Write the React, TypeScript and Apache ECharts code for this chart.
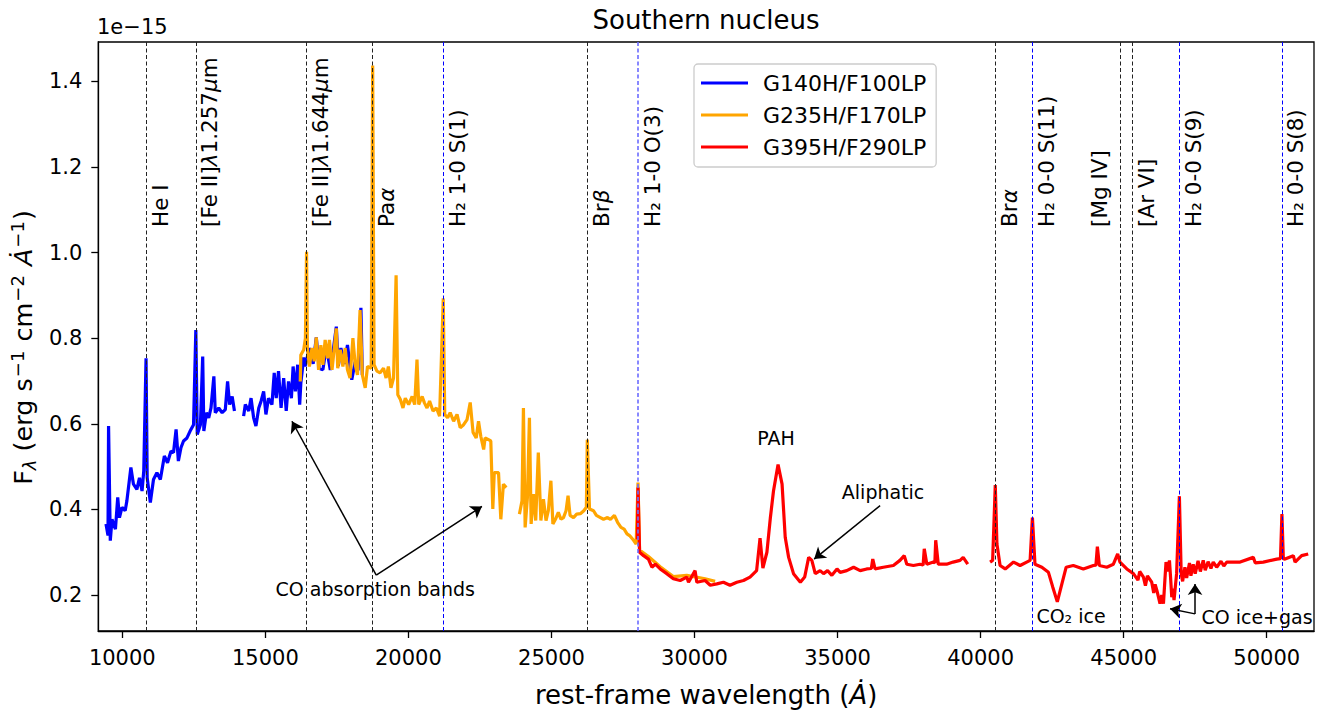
import React, { useEffect, useRef } from 'react';
import * as echarts from 'echarts';

const FONT = 'DejaVu Sans';

// Spectra: [rest-frame wavelength (Å), flux (1e-15 erg s^-1 cm^-2 Å^-1)]
const blueData: (number | null)[][] = [
  [9430, 0.366], [9500, 0.339], [9520, 0.595], [9580, 0.327], [9640, 0.377], [9760, 0.354], [9840, 0.428],
  [9900, 0.381], [9990, 0.405], [10100, 0.397], [10160, 0.42], [10300, 0.498], [10390, 0.459], [10510, 0.447],
  [10600, 0.474], [10690, 0.443], [10750, 0.49], [10830, 0.753], [10870, 0.474], [10980, 0.416], [11090, 0.47],
  [11210, 0.486], [11330, 0.47], [11470, 0.525], [11580, 0.509], [11700, 0.536], [11790, 0.533], [11880, 0.587],
  [11960, 0.513], [12050, 0.544], [12140, 0.56], [12260, 0.567], [12370, 0.583], [12490, 0.598], [12570, 0.819],
  [12620, 0.575], [12730, 0.598], [12810, 0.757], [12850, 0.583], [12940, 0.626], [13020, 0.614], [13100, 0.637],
  [13200, 0.711], [13250, 0.626], [13370, 0.637], [13490, 0.626], [13600, 0.633], [13680, 0.699], [13750, 0.645],
  [13840, 0.664], [13920, 0.63], [14070, null], [14240, 0.618], [14300, 0.645], [14420, 0.63], [14500, 0.66],
  [14590, 0.614], [14670, 0.595], [14770, 0.637], [14850, 0.653], [14940, 0.676], [15020, 0.622], [15110, 0.66],
  [15230, 0.645], [15310, 0.719], [15380, 0.66], [15460, 0.723], [15550, 0.637], [15640, 0.707], [15730, 0.63],
  [15810, 0.699], [15910, 0.66], [15970, 0.734], [16050, 0.676], [16130, 0.738], [16200, 0.645], [16240, 0.695],
  [16340, 0.755], [16390, 0.734], [16540, 0.777], [16670, 0.74], [16780, 0.802], [16880, 0.73], [17010, 0.726],
  [17130, 0.78], [17270, 0.726], [17370, 0.77], [17480, 0.827], [17550, 0.735], [17640, 0.777], [17760, 0.74],
  [17870, 0.784], [18020, 0.703], [18140, 0.745], [18240, 0.725], [18340, 0.871], [18390, 0.714],
];

const orangeData: (number | null)[][] = [
  [16220, 0.699], [16240, 0.761], [16340, 0.773], [16400, 0.8], [16440, 1.002], [16470, 0.777], [16540, 0.734],
  [16630, 0.777], [16710, 0.746], [16780, 0.802], [16860, 0.726], [16940, 0.784], [17010, 0.738], [17090, 0.796],
  [17170, 0.753], [17240, 0.796], [17330, 0.726], [17410, 0.777], [17480, 0.823], [17530, 0.73], [17620, 0.773],
  [17710, 0.734], [17790, 0.777], [17870, 0.726], [17960, 0.707], [18060, 0.8], [18140, 0.738], [18220, 0.714],
  [18310, 0.866], [18390, 0.714], [18490, 0.684], [18570, 0.734], [18700, 0.73], [18751, 1.437], [18800, 0.738],
  [18900, 0.723], [19010, 0.719], [19130, 0.73], [19220, 0.707], [19300, 0.734], [19390, 0.684], [19480, 0.707],
  [19570, 0.947], [19630, 0.668], [19720, 0.657], [19810, 0.637], [19890, 0.66], [20010, 0.645], [20130, 0.664],
  [20220, 0.645], [20300, 0.75], [20360, 0.645], [20480, 0.664], [20560, 0.649], [20650, 0.637], [20740, 0.653],
  [20860, 0.63], [20980, 0.637], [21090, 0.618], [21218, 0.893], [21270, 0.622], [21370, 0.614], [21460, 0.626],
  [21580, 0.606], [21700, 0.622], [21810, 0.591], [21930, 0.598], [22050, 0.61], [22160, 0.65], [22260, 0.58],
  [22370, 0.567], [22450, 0.606], [22530, 0.571], [22630, 0.54], [22680, 0.567], [22800, 0.563], [22880, 0.56],
  [22950, 0.401], [23000, 0.486], [23150, 0.486], [23230, 0.377], [23320, 0.459], [23420, 0.451], [23650, null],
  [23880, 0.389], [23970, 0.42], [24020, 0.637], [24080, 0.358], [24160, 0.428], [24230, 0.614], [24290, 0.366],
  [24370, 0.436], [24450, 0.374], [24540, 0.533], [24630, 0.374], [24720, 0.424], [24810, 0.374], [24890, 0.397],
  [24980, 0.467], [25050, 0.366], [25140, 0.377], [25240, 0.393], [25330, 0.377], [25420, 0.381], [25510, 0.397],
  [25580, 0.432], [25650, 0.386], [25770, 0.381], [25880, 0.389], [26010, 0.39], [26130, 0.397], [26220, 0.405],
  [26252, 0.563], [26330, 0.401], [26470, 0.397], [26570, 0.386], [26710, 0.381], [26820, 0.377], [26960, 0.381],
  [27060, 0.377], [27200, 0.386], [27310, 0.37], [27430, 0.358], [27540, 0.354], [27640, 0.343], [27730, 0.339],
  [27870, 0.328], [27960, 0.319], [28025, 0.463], [28080, 0.305], [28390, 0.29], [28800, 0.266], [29260, 0.243],
  [29730, 0.246], [30370, 0.238], [30720, 0.232],
];

const redData: (number | null)[][] = [
  [28000, 0.33], [28025, 0.451], [28080, 0.3], [28220, 0.292], [28390, 0.284], [28510, 0.265], [28630, 0.272],
  [28800, 0.261], [29030, 0.25], [29260, 0.238], [29500, 0.234], [29730, 0.242], [29790, 0.23], [30020, 0.257],
  [30080, 0.23], [30370, 0.234], [30550, 0.223], [30780, 0.226], [31010, 0.23], [31240, 0.223], [31480, 0.23],
  [31710, 0.234], [31940, 0.242], [32170, 0.257], [32290, 0.333], [32390, 0.263], [32530, 0.3], [32650, 0.38],
  [32760, 0.443], [32920, 0.505], [33060, 0.459], [33170, 0.335], [33290, 0.288], [33460, 0.25], [33700, 0.23],
  [33850, 0.242], [33990, 0.288], [34100, 0.281], [34220, 0.25], [34390, 0.257], [34510, 0.25], [34650, 0.257],
  [34800, 0.246], [34980, 0.261], [35090, 0.253], [35320, 0.257], [35560, 0.265], [35790, 0.257], [36020, 0.261],
  [36180, 0.262], [36230, 0.284], [36310, 0.261], [36600, 0.265], [36950, 0.269], [37180, 0.281], [37330, 0.292],
  [37420, 0.272], [37650, 0.269], [37880, 0.272], [37990, 0.27], [38030, 0.308], [38120, 0.272], [38350, 0.277],
  [38400, 0.275], [38430, 0.328], [38520, 0.272], [38810, 0.272], [39040, 0.277], [39280, 0.281], [39390, 0.288],
  [39550, 0.272], [39900, null], [40330, 0.277], [40420, 0.281], [40512, 0.457], [40570, 0.319], [40680, 0.269],
  [40860, 0.261], [41150, 0.277], [41380, 0.269], [41610, 0.277], [41730, 0.281], [41810, 0.381], [41900, 0.272],
  [42140, 0.265], [42370, 0.253], [42520, 0.219], [42680, 0.184], [42840, 0.226], [42990, 0.265], [43240, 0.269],
  [43590, 0.261], [43940, 0.269], [44030, 0.27], [44080, 0.313], [44150, 0.269], [44410, 0.265], [44640, 0.272],
  [44790, 0.296], [44870, 0.277], [45110, 0.261], [45340, 0.25], [45500, 0.235], [45560, 0.255], [45690, 0.242],
  [45760, 0.222], [45830, 0.245], [45980, 0.23], [46050, 0.205], [46100, 0.225], [46160, 0.211], [46270, 0.18],
  [46330, 0.2], [46390, 0.18], [46440, 0.235], [46480, 0.277], [46540, 0.255], [46600, 0.281], [46640, 0.24],
  [46680, 0.195], [46720, 0.215], [46760, 0.188], [46850, 0.25], [46947, 0.431], [47010, 0.25], [47060, 0.232],
  [47140, 0.265], [47200, 0.24], [47300, 0.275], [47350, 0.245], [47430, 0.272], [47500, 0.25], [47600, 0.28],
  [47680, 0.255], [47780, 0.281], [47850, 0.258], [47950, 0.278], [48050, 0.262], [48130, 0.277], [48250, 0.265],
  [48400, 0.279], [48500, 0.268], [48600, 0.277], [49070, 0.277], [49530, 0.288], [49600, 0.275], [49880, 0.277],
  [50350, 0.284], [50480, 0.285], [50531, 0.389], [50580, 0.285], [50640, 0.284], [50930, 0.292], [50990, 0.277],
  [51220, 0.292], [51450, 0.296],
];

const seriesNames = ['G140H/F100LP', 'G235H/F170LP', 'G395H/F290LP'];
const seriesColors = ['#0000ff', '#ffa500', '#ff0000'];

// Emission-line markers
const lineWavelengths = [10830, 12570, 16440, 18751, 21218, 26252, 28025, 40512, 41810, 44870, 45295, 46947, 50531];
const lineLabels = [
  'He I', '[Fe II]{i|λ}1.257{i|μ}m', '[Fe II]{i|λ}1.644{i|μ}m', 'Pa{i|α}', 'H₂ 1-0 S(1)', 'Br{i|β}',
  'H₂ 1-0 O(3)', 'Br{i|α}', 'H₂ 0-0 S(11)', '[Mg IV]', '[Ar VI]', 'H₂ 0-0 S(9)', 'H₂ 0-0 S(8)',
];
const lineKinds = ['atom', 'atom', 'atom', 'atom', 'h2', 'atom', 'h2', 'atom', 'h2', 'atom', 'atom', 'h2', 'h2'];
const lineLabelSide = ['r', 'r', 'r', 'r', 'r', 'r', 'r', 'r', 'r', 'l', 'r', 'r', 'r'];
const lineLabelFlux = 1.06;

// Annotations
const annotTexts = ['PAH', 'Aliphatic', 'CO absorption bands', 'CO₂ ice', 'CO ice+gas'];
const annotX = [32850, 36590, 18840, 43160, 49660];
const annotY = [0.567, 0.44, 0.214, 0.151, 0.149];
const arrowFrom = [[18876, 0.2465], [18876, 0.2465], [36487, 0.409], [47494, 0.156], [47494, 0.156]];
const arrowTo = [[15930, 0.606], [22570, 0.407], [34181, 0.284], [47494, 0.226], [46620, 0.168]];

const xTicks = [10000, 15000, 20000, 25000, 30000, 35000, 40000, 45000, 50000];
const yTicks = [0.2, 0.4, 0.6, 0.8, 1.0, 1.2, 1.4];
const xMin = 9161;
const xMax = 51652;
const yMin = 0.116;
const yMax = 1.492;

export default function App() {
  const ref = useRef<HTMLDivElement>(null);

  useEffect(() => {
    if (!ref.current) return;
    const chart = echarts.init(ref.current, undefined, { renderer: 'svg' });

    const lineSeries = seriesNames.map((name, i) => ({
      name,
      type: 'line',
      data: [blueData, orangeData, redData][i],
      showSymbol: false,
      symbol: 'none',
      connectNulls: false,
      color: seriesColors[i],
      lineStyle: { color: seriesColors[i], width: 3.2 },
      z: 2 + i,
    }));

    const yRich = {
      n: { fontFamily: FONT, fontSize: 25.5, color: '#000', lineHeight: 30 },
      s: { fontFamily: FONT, fontSize: 18, fontStyle: 'italic', color: '#000', lineHeight: 14, verticalAlign: 'bottom' },
      p: { fontFamily: FONT, fontSize: 18, color: '#000', lineHeight: 14, verticalAlign: 'top', padding: [0, 1, 0, 1] },
      i: { fontFamily: FONT, fontSize: 25.5, fontStyle: 'italic', color: '#000', lineHeight: 30 },
    };

    const option: any = {
      animation: false,
      textStyle: { fontFamily: FONT },
      grid: {
        left: 98, top: 42, width: 1216, height: 592,
        show: true, borderColor: '#000', borderWidth: 1.3, backgroundColor: 'transparent',
      },
      legend: {
        data: seriesNames,
        orient: 'vertical',
        left: 694, top: 64,
        icon: 'rect', itemWidth: 47, itemHeight: 3, itemGap: 10,
        padding: [8, 10, 9, 7],
        borderColor: '#cccccc', borderWidth: 1.3, borderRadius: 4,
        backgroundColor: 'rgba(255,255,255,0.8)',
        textStyle: { fontFamily: FONT, fontSize: 22, color: '#000', padding: [0, 0, 0, 10] },
      },
      xAxis: {
        type: 'value', min: xMin, max: xMax,
        name: 'rest-frame wavelength ({i|Ȧ})',
        nameLocation: 'middle', nameGap: 51,
        nameTextStyle: {
          fontFamily: FONT, fontSize: 26, color: '#000',
          rich: { i: { fontFamily: FONT, fontSize: 26, fontStyle: 'italic', color: '#000' } },
        },
        axisLine: { show: true, lineStyle: { color: '#000', width: 1.3 } },
        axisTick: { show: true, length: 7, lineStyle: { color: '#000', width: 1.3 }, customValues: xTicks },
        axisLabel: { fontFamily: FONT, fontSize: 21, color: '#000', margin: 16, customValues: xTicks, formatter: (v: number) => String(v) },
        splitLine: { show: false },
      },
      yAxis: {
        type: 'value', min: yMin, max: yMax,
        name: '{n|F}{s|λ}{n| (erg s}{p|−1}{n| cm}{p|−2}{n| }{i|Ȧ}{p|−1}{n|)}',
        nameLocation: 'middle', nameGap: 56, nameRotate: 90,
        nameTextStyle: {
          fontFamily: FONT, fontSize: 25.5, color: '#000',
          padding: [0, 22, 0, 0],
          rich: yRich,
        },
        axisLine: { show: true, lineStyle: { color: '#000', width: 1.3 } },
        axisTick: { show: true, length: 7, lineStyle: { color: '#000', width: 1.3 }, customValues: yTicks },
        axisLabel: { fontFamily: FONT, fontSize: 21, color: '#000', margin: 16, customValues: yTicks, formatter: (v: number) => v.toFixed(1) },
        splitLine: { show: false },
      },
      graphic: [
        { type: 'text', x: 706, y: 20, style: { text: 'Southern nucleus', font: `26px "${FONT}"`, fill: '#000', align: 'center', verticalAlign: 'middle' } },
        { type: 'text', x: 97, y: 27, style: { text: '1e−15', font: `21px "${FONT}"`, fill: '#000', align: 'left', verticalAlign: 'middle' } },
      ],
      series: [
        ...lineSeries,
        {
          name: 'lineMarkers',
          type: 'scatter',
          symbolSize: 0,
          z: 6,
          silent: true,
          itemStyle: { opacity: 1 },
          data: lineWavelengths.map((w, i) => ({
            value: [w, lineLabelFlux],
            label: lineLabelSide[i] === 'r'
              ? { position: [3, 0], verticalAlign: 'top' }
              : { position: [-9, 0], verticalAlign: 'bottom' },
          })),
          label: {
            show: true,
            rotate: 90,
            align: 'left',
            fontFamily: FONT, fontSize: 21.5, color: '#000', opacity: 1,
            formatter: (p: any) => lineLabels[p.dataIndex],
            rich: { i: { fontFamily: FONT, fontSize: 21.5, fontStyle: 'italic', color: '#000' } },
          },
          markLine: {
            silent: true,
            symbol: 'none',
            label: { show: false },
            data: lineWavelengths.map((w, i) => ({
              xAxis: w,
              lineStyle: {
                color: lineKinds[i] === 'h2' ? (w === 28025 ? '#6b6bff' : '#0000ff') : '#222',
                type: [4, 2.5],
                width: w === 28025 ? 1.6 : 1,
                opacity: 1,
              },
            })),
          },
        },
        {
          name: 'annotations',
          type: 'scatter',
          symbolSize: 0,
          z: 7,
          silent: true,
          itemStyle: { opacity: 1 },
          data: annotTexts.map((t, i) => [annotX[i], annotY[i]]),
          label: {
            show: true,
            position: [0, 0],
            align: 'center',
            verticalAlign: 'middle',
            fontFamily: FONT, fontSize: 19, color: '#000', opacity: 1,
            formatter: (p: any) => annotTexts[p.dataIndex],
          },
          markLine: {
            silent: true,
            symbol: ['none', 'arrow'],
            symbolSize: 11,
            label: { show: false },
            lineStyle: { color: '#000', width: 1.5, type: 'solid', opacity: 1 },
            data: arrowFrom.map((f, i) => [{ coord: f }, { coord: arrowTo[i] }]),
          },
        },
      ],
    };

    chart.setOption(option);
    return () => chart.dispose();
  }, []);

  return <div ref={ref} style={{ position: 'fixed', left: 0, top: 0, width: 1323, height: 713, background: '#fff' }} />;
}
